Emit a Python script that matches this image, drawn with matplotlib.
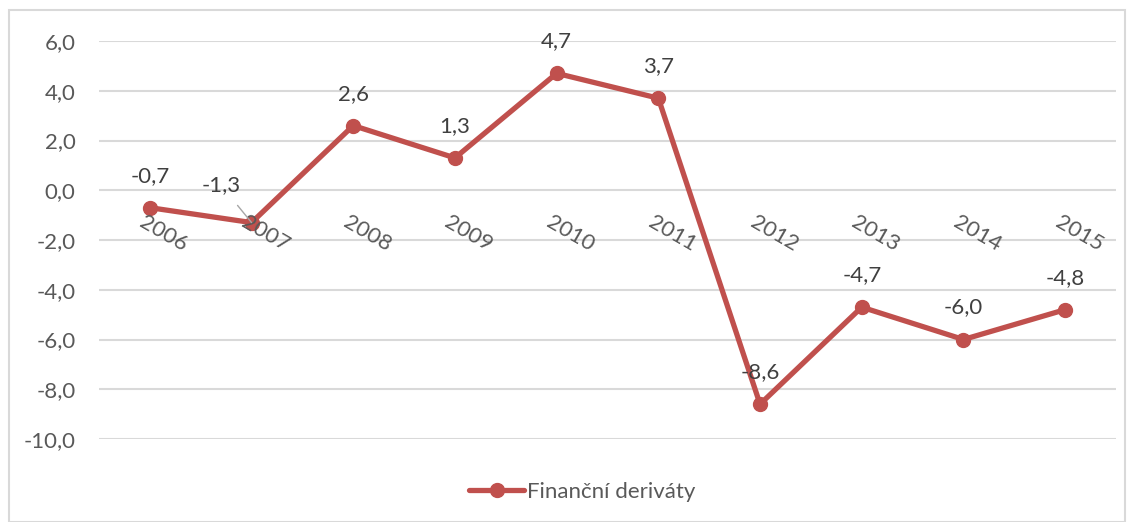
import matplotlib.pyplot as plt
from matplotlib.patches import Rectangle

years = ["2006", "2007", "2008", "2009", "2010", "2011", "2012", "2013", "2014", "2015"]
values = [-0.7, -1.3, 2.6, 1.3, 4.7, 3.7, -8.6, -4.7, -6.0, -4.8]
series_name = "Finanční deriváty"
yticks = [6, 4, 2, 0, -2, -4, -6, -8, -10]

RED = "#C0504D"
TXT = "#595959"
GRID = "#D9D9D9"
FONT = "Lato"
FS = 16

W, H = 1134, 522
fig = plt.figure(figsize=(W / 100, H / 100), dpi=100)
fig.patches.append(Rectangle((9 / W, 0.0), (1125 - 9) / W, 1 - 10 / H - 0.0,
                             transform=fig.transFigure, fill=False,
                             edgecolor="#D9D9D9", linewidth=1.5))
ax = fig.add_axes([99 / W, 1 - 439 / H, (1116 - 99) / W, (439 - 41) / H])

x = list(range(len(years)))
line, = ax.plot(x, values, color=RED, linewidth=3.8, marker="o", markersize=10,
                label=series_name, solid_capstyle="round", zorder=3)

ax.set_xlim(-0.5, len(years) - 0.5)
ax.set_ylim(-10, 6)
ax.set_yticks(yticks)
ax.set_yticklabels([f"{v:.1f}".replace(".", ",") for v in yticks],
                   fontsize=FS, color=TXT, family=FONT)
ax.tick_params(axis="y", length=0, pad=17)
ax.set_xticks([])
ax.grid(axis="y", color=GRID, linewidth=1.5)
ax.set_axisbelow(True)
for s in ax.spines.values():
    s.set_visible(False)

# year labels along the zero line
for xi, yr in zip(x, years):
    ax.annotate(yr, (xi, 0), xytext=(-2.5, -16), textcoords="offset points",
                rotation=-30, rotation_mode="anchor", ha="left", va="top",
                fontsize=FS, color=TXT, family=FONT)

# data labels
for xi, v in zip(x, values):
    lab = f"{v:.1f}".replace(".", ",")
    if xi == 1:
        ax.annotate(lab, (xi, v), xytext=(-22, 27), textcoords="offset points",
                    ha="center", va="center", fontsize=FS, color="#404040", family=FONT,
                    arrowprops=dict(arrowstyle="-", color="#A6A6A6", lw=1,
                                    shrinkA=7, shrinkB=0))
    else:
        ax.annotate(lab, (xi, v), xytext=(0, 23), textcoords="offset points",
                    ha="center", va="center", fontsize=FS, color="#404040", family=FONT)

leg = fig.legend(handles=[line], loc="center", bbox_to_anchor=(582 / W, 1 - 492 / H),
                 frameon=False, prop={"family": FONT, "size": FS},
                 handlelength=2.5, handletextpad=0.1, markerscale=1.0)
for t in leg.get_texts():
    t.set_color(TXT)

fig.savefig("out.png", dpi=100)
